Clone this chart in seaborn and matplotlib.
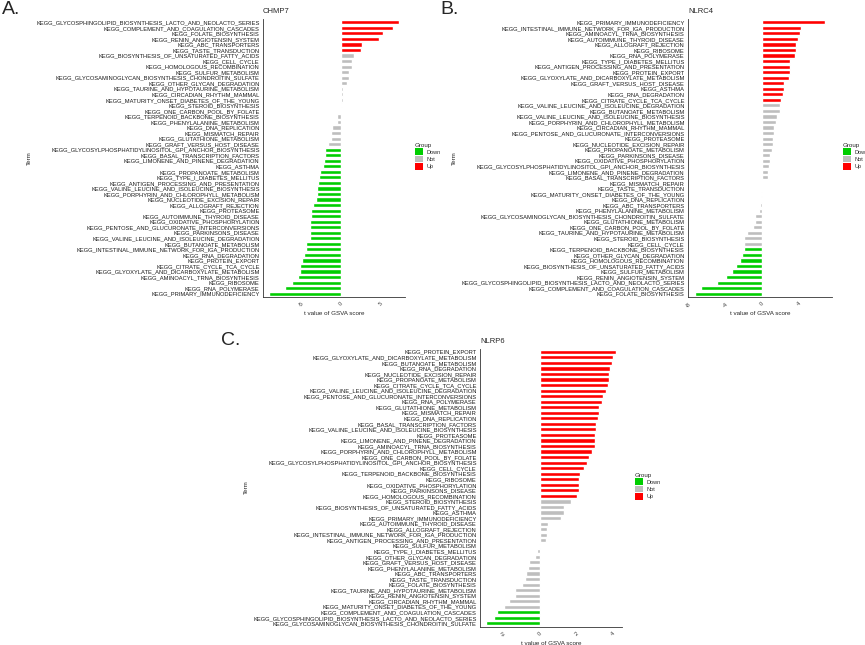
import seaborn as sns
import pandas as pd
import matplotlib.pyplot as plt
from matplotlib.patches import Patch

# ---- данные: панель A (CHMP7)
terms_a = [
    "KEGG_GLYCOSPHINGOLIPID_BIOSYNTHESIS_LACTO_AND_NEOLACTO_SERIES",
    "KEGG_COMPLEMENT_AND_COAGULATION_CASCADES",
    "KEGG_FOLATE_BIOSYNTHESIS",
    "KEGG_RENIN_ANGIOTENSIN_SYSTEM",
    "KEGG_ABC_TRANSPORTERS",
    "KEGG_TASTE_TRANSDUCTION",
    "KEGG_BIOSYNTHESIS_OF_UNSATURATED_FATTY_ACIDS",
    "KEGG_CELL_CYCLE",
    "KEGG_HOMOLOGOUS_RECOMBINATION",
    "KEGG_SULFUR_METABOLISM",
    "KEGG_GLYCOSAMINOGLYCAN_BIOSYNTHESIS_CHONDROITIN_SULFATE",
    "KEGG_OTHER_GLYCAN_DEGRADATION",
    "KEGG_TAURINE_AND_HYPOTAURINE_METABOLISM",
    "KEGG_CIRCADIAN_RHYTHM_MAMMAL",
    "KEGG_MATURITY_ONSET_DIABETES_OF_THE_YOUNG",
    "KEGG_STEROID_BIOSYNTHESIS",
    "KEGG_ONE_CARBON_POOL_BY_FOLATE",
    "KEGG_TERPENOID_BACKBONE_BIOSYNTHESIS",
    "KEGG_PHENYLALANINE_METABOLISM",
    "KEGG_DNA_REPLICATION",
    "KEGG_MISMATCH_REPAIR",
    "KEGG_GLUTATHIONE_METABOLISM",
    "KEGG_GRAFT_VERSUS_HOST_DISEASE",
    "KEGG_GLYCOSYLPHOSPHATIDYLINOSITOL_GPI_ANCHOR_BIOSYNTHESIS",
    "KEGG_BASAL_TRANSCRIPTION_FACTORS",
    "KEGG_LIMONENE_AND_PINENE_DEGRADATION",
    "KEGG_ASTHMA",
    "KEGG_PROPANOATE_METABOLISM",
    "KEGG_TYPE_I_DIABETES_MELLITUS",
    "KEGG_ANTIGEN_PROCESSING_AND_PRESENTATION",
    "KEGG_VALINE_LEUCINE_AND_ISOLEUCINE_BIOSYNTHESIS",
    "KEGG_PORPHYRIN_AND_CHLOROPHYLL_METABOLISM",
    "KEGG_NUCLEOTIDE_EXCISION_REPAIR",
    "KEGG_ALLOGRAFT_REJECTION",
    "KEGG_PROTEASOME",
    "KEGG_AUTOIMMUNE_THYROID_DISEASE",
    "KEGG_OXIDATIVE_PHOSPHORYLATION",
    "KEGG_PENTOSE_AND_GLUCURONATE_INTERCONVERSIONS",
    "KEGG_PARKINSONS_DISEASE",
    "KEGG_VALINE_LEUCINE_AND_ISOLEUCINE_DEGRADATION",
    "KEGG_BUTANOATE_METABOLISM",
    "KEGG_INTESTINAL_IMMUNE_NETWORK_FOR_IGA_PRODUCTION",
    "KEGG_RNA_DEGRADATION",
    "KEGG_PROTEIN_EXPORT",
    "KEGG_CITRATE_CYCLE_TCA_CYCLE",
    "KEGG_GLYOXYLATE_AND_DICARBOXYLATE_METABOLISM",
    "KEGG_AMINOACYL_TRNA_BIOSYNTHESIS",
    "KEGG_RIBOSOME",
    "KEGG_RNA_POLYMERASE",
    "KEGG_PRIMARY_IMMUNODEFICIENCY",
]
t_a = [7.28, 6.52, 5.30, 4.74, 2.67, 2.50, 1.65, 1.40, 1.31, 1.05,
       0.98, 0.72, 0.29, 0.25, 0.17, 0.08, -0.05, -0.55, -0.58, -1.18,
       -1.31, -1.31, -1.74, -2.07, -2.12, -2.16, -2.29, -2.67, -2.88, -2.92,
       -3.05, -3.09, -3.14, -3.56, -3.81, -3.85, -3.94, -3.98, -3.98, -3.98,
       -4.45, -4.45, -4.70, -4.96, -5.21, -5.21, -5.43, -6.26, -7.12, -9.11]
group_a = ["Up"] * 6 + ["Not"] * 17 + ["Down"] * 27

# ---- панель B (NLRC4)
terms_b = [
    "KEGG_PRIMARY_IMMUNODEFICIENCY",
    "KEGG_INTESTINAL_IMMUNE_NETWORK_FOR_IGA_PRODUCTION",
    "KEGG_AMINOACYL_TRNA_BIOSYNTHESIS",
    "KEGG_AUTOIMMUNE_THYROID_DISEASE",
    "KEGG_ALLOGRAFT_REJECTION",
    "KEGG_RIBOSOME",
    "KEGG_RNA_POLYMERASE",
    "KEGG_TYPE_I_DIABETES_MELLITUS",
    "KEGG_ANTIGEN_PROCESSING_AND_PRESENTATION",
    "KEGG_PROTEIN_EXPORT",
    "KEGG_GLYOXYLATE_AND_DICARBOXYLATE_METABOLISM",
    "KEGG_GRAFT_VERSUS_HOST_DISEASE",
    "KEGG_ASTHMA",
    "KEGG_RNA_DEGRADATION",
    "KEGG_CITRATE_CYCLE_TCA_CYCLE",
    "KEGG_VALINE_LEUCINE_AND_ISOLEUCINE_DEGRADATION",
    "KEGG_BUTANOATE_METABOLISM",
    "KEGG_VALINE_LEUCINE_AND_ISOLEUCINE_BIOSYNTHESIS",
    "KEGG_PORPHYRIN_AND_CHLOROPHYLL_METABOLISM",
    "KEGG_CIRCADIAN_RHYTHM_MAMMAL",
    "KEGG_PENTOSE_AND_GLUCURONATE_INTERCONVERSIONS",
    "KEGG_PROTEASOME",
    "KEGG_NUCLEOTIDE_EXCISION_REPAIR",
    "KEGG_PROPANOATE_METABOLISM",
    "KEGG_PARKINSONS_DISEASE",
    "KEGG_OXIDATIVE_PHOSPHORYLATION",
    "KEGG_GLYCOSYLPHOSPHATIDYLINOSITOL_GPI_ANCHOR_BIOSYNTHESIS",
    "KEGG_LIMONENE_AND_PINENE_DEGRADATION",
    "KEGG_BASAL_TRANSCRIPTION_FACTORS",
    "KEGG_MISMATCH_REPAIR",
    "KEGG_TASTE_TRANSDUCTION",
    "KEGG_MATURITY_ONSET_DIABETES_OF_THE_YOUNG",
    "KEGG_DNA_REPLICATION",
    "KEGG_ABC_TRANSPORTERS",
    "KEGG_PHENYLALANINE_METABOLISM",
    "KEGG_GLYCOSAMINOGLYCAN_BIOSYNTHESIS_CHONDROITIN_SULFATE",
    "KEGG_GLUTATHIONE_METABOLISM",
    "KEGG_ONE_CARBON_POOL_BY_FOLATE",
    "KEGG_TAURINE_AND_HYPOTAURINE_METABOLISM",
    "KEGG_STEROID_BIOSYNTHESIS",
    "KEGG_CELL_CYCLE",
    "KEGG_TERPENOID_BACKBONE_BIOSYNTHESIS",
    "KEGG_OTHER_GLYCAN_DEGRADATION",
    "KEGG_HOMOLOGOUS_RECOMBINATION",
    "KEGG_BIOSYNTHESIS_OF_UNSATURATED_FATTY_ACIDS",
    "KEGG_SULFUR_METABOLISM",
    "KEGG_RENIN_ANGIOTENSIN_SYSTEM",
    "KEGG_GLYCOSPHINGOLIPID_BIOSYNTHESIS_LACTO_AND_NEOLACTO_SERIES",
    "KEGG_COMPLEMENT_AND_COAGULATION_CASCADES",
    "KEGG_FOLATE_BIOSYNTHESIS",
]
t_b = [6.90, 4.26, 4.15, 3.97, 3.71, 3.68, 3.64, 3.05, 3.05, 3.01,
       2.94, 2.43, 2.35, 2.32, 2.06, 1.95, 1.91, 1.65, 1.51, 1.36,
       1.29, 1.25, 1.21, 1.10, 0.88, 0.85, 0.81, 0.66, 0.63, 0.04,
       0.02, -0.07, -0.15, -0.18, -0.29, -0.70, -0.74, -0.99, -1.62, -1.91,
       -1.91, -1.99, -2.13, -2.35, -2.83, -3.20, -3.93, -4.85, -6.62, -7.32]
group_b = ["Up"] * 15 + ["Not"] * 26 + ["Down"] * 9

# ---- панель C (NLRP6)
terms_c = [
    "KEGG_PROTEIN_EXPORT",
    "KEGG_GLYOXYLATE_AND_DICARBOXYLATE_METABOLISM",
    "KEGG_BUTANOATE_METABOLISM",
    "KEGG_RNA_DEGRADATION",
    "KEGG_NUCLEOTIDE_EXCISION_REPAIR",
    "KEGG_PROPANOATE_METABOLISM",
    "KEGG_CITRATE_CYCLE_TCA_CYCLE",
    "KEGG_VALINE_LEUCINE_AND_ISOLEUCINE_DEGRADATION",
    "KEGG_PENTOSE_AND_GLUCURONATE_INTERCONVERSIONS",
    "KEGG_RNA_POLYMERASE",
    "KEGG_GLUTATHIONE_METABOLISM",
    "KEGG_MISMATCH_REPAIR",
    "KEGG_DNA_REPLICATION",
    "KEGG_BASAL_TRANSCRIPTION_FACTORS",
    "KEGG_VALINE_LEUCINE_AND_ISOLEUCINE_BIOSYNTHESIS",
    "KEGG_PROTEASOME",
    "KEGG_LIMONENE_AND_PINENE_DEGRADATION",
    "KEGG_AMINOACYL_TRNA_BIOSYNTHESIS",
    "KEGG_PORPHYRIN_AND_CHLOROPHYLL_METABOLISM",
    "KEGG_ONE_CARBON_POOL_BY_FOLATE",
    "KEGG_GLYCOSYLPHOSPHATIDYLINOSITOL_GPI_ANCHOR_BIOSYNTHESIS",
    "KEGG_CELL_CYCLE",
    "KEGG_TERPENOID_BACKBONE_BIOSYNTHESIS",
    "KEGG_RIBOSOME",
    "KEGG_OXIDATIVE_PHOSPHORYLATION",
    "KEGG_PARKINSONS_DISEASE",
    "KEGG_HOMOLOGOUS_RECOMBINATION",
    "KEGG_STEROID_BIOSYNTHESIS",
    "KEGG_BIOSYNTHESIS_OF_UNSATURATED_FATTY_ACIDS",
    "KEGG_ASTHMA",
    "KEGG_PRIMARY_IMMUNODEFICIENCY",
    "KEGG_AUTOIMMUNE_THYROID_DISEASE",
    "KEGG_ALLOGRAFT_REJECTION",
    "KEGG_INTESTINAL_IMMUNE_NETWORK_FOR_IGA_PRODUCTION",
    "KEGG_ANTIGEN_PROCESSING_AND_PRESENTATION",
    "KEGG_SULFUR_METABOLISM",
    "KEGG_TYPE_I_DIABETES_MELLITUS",
    "KEGG_OTHER_GLYCAN_DEGRADATION",
    "KEGG_GRAFT_VERSUS_HOST_DISEASE",
    "KEGG_PHENYLALANINE_METABOLISM",
    "KEGG_ABC_TRANSPORTERS",
    "KEGG_TASTE_TRANSDUCTION",
    "KEGG_FOLATE_BIOSYNTHESIS",
    "KEGG_TAURINE_AND_HYPOTAURINE_METABOLISM",
    "KEGG_RENIN_ANGIOTENSIN_SYSTEM",
    "KEGG_CIRCADIAN_RHYTHM_MAMMAL",
    "KEGG_MATURITY_ONSET_DIABETES_OF_THE_YOUNG",
    "KEGG_COMPLEMENT_AND_COAGULATION_CASCADES",
    "KEGG_GLYCOSPHINGOLIPID_BIOSYNTHESIS_LACTO_AND_NEOLACTO_SERIES",
    "KEGG_GLYCOSAMINOGLYCAN_BIOSYNTHESIS_CHONDROITIN_SULFATE",
]
t_c = [4.13, 4.00, 3.96, 3.84, 3.78, 3.78, 3.71, 3.62, 3.42, 3.38,
       3.25, 3.24, 3.15, 3.07, 3.04, 3.02, 3.02, 3.00, 2.84, 2.67,
       2.56, 2.42, 2.20, 2.15, 2.15, 2.11, 2.05, 1.69, 1.33, 1.31,
       1.13, 0.47, 0.40, 0.38, 0.33, -0.05, -0.16, -0.24, -0.58, -0.67,
       -0.78, -0.82, -0.96, -1.33, -1.35, -1.67, -1.95, -2.31, -2.49, -2.91]
group_c = ["Up"] * 27 + ["Not"] * 20 + ["Down"] * 3

group_order = ["Down", "Not", "Up"]
group_colors = {"Down": "#00CD00", "Not": "#BEBEBE", "Up": "#FF0000"}

sns.set_style("white")
plt.rcParams["font.family"] = ["Liberation Sans", "DejaVu Sans"]

W, H = 865, 645
fig = plt.figure(figsize=(W / 100, H / 100), dpi=100)


def px_axes(left, top, right, bottom):
    # оси в пикселях картинки
    return fig.add_axes([left / W, 1 - bottom / H, (right - left) / W, (bottom - top) / H])


def gsva_panel(ax, terms, tvals, groups, title, ticks, legend_xy):
    df = pd.DataFrame({"Term": terms, "t": tvals, "Group": groups})
    sns.barplot(data=df, x="t", y="Term", hue="Group", order=terms,
                hue_order=group_order, palette=group_colors, dodge=False,
                width=0.75, saturation=1, legend=False, ax=ax)
    n = len(terms)
    lo, hi = min(tvals), max(tvals)
    pad = 0.05 * (hi - lo)
    ax.set_xlim(lo - pad, hi + pad)
    ax.set_ylim(n - 1 + 0.6, -0.6)
    ax.set_xticks(ticks)
    ax.set_xticklabels([str(t) for t in ticks], rotation=45, fontsize=4, color="#333333")
    ax.tick_params(axis="y", labelsize=4.15, labelcolor="#1a1a1a", length=1.5, width=0.5, pad=1)
    ax.tick_params(axis="x", length=2, width=0.5, pad=1)
    for s in ["top", "right"]:
        ax.spines[s].set_visible(False)
    for s in ["left", "bottom"]:
        ax.spines[s].set_linewidth(0.6)
        ax.spines[s].set_color("#333333")
    ax.set_xlabel("t value of GSVA score", fontsize=4.5, labelpad=2)
    ax.set_ylabel("Term", fontsize=4.5, labelpad=3)
    ax.set_title(title, fontsize=5.5, loc="left", pad=4)
    handles = [Patch(facecolor=group_colors[g], edgecolor="none") for g in group_order]
    fig.legend(handles, group_order, title="Group", loc="upper left",
               bbox_to_anchor=(legend_xy[0] / W, 1 - legend_xy[1] / H),
               frameon=False, fontsize=4, title_fontsize=4.5,
               handlelength=1.5, handleheight=1.5, handletextpad=0.6,
               labelspacing=0.1, borderpad=0, alignment="left")


ax_a = px_axes(263, 19, 405, 297)
gsva_panel(ax_a, terms_a, t_a, group_a, "CHMP7", [-5, 0, 5], (412, 140))

ax_b = px_axes(688, 19, 832, 297)
gsva_panel(ax_b, terms_b, t_b, group_b, "NLRC4", [-8, -4, 0, 4], (840, 140))

ax_c = px_axes(480, 348.5, 622, 626.7)
gsva_panel(ax_c, terms_c, t_c, group_c, "NLRP6", [-2, 0, 2, 4], (632, 470))

fig.text(2 / W, 1 - 1 / H, "A.", fontsize=14, va="top", ha="left")
fig.text(440 / W, 1 - 1 / H, "B.", fontsize=14, va="top", ha="left")
fig.text(221 / W, 1 - 332 / H, "C.", fontsize=14, va="top", ha="left")

fig.savefig("out.png", dpi=100)
